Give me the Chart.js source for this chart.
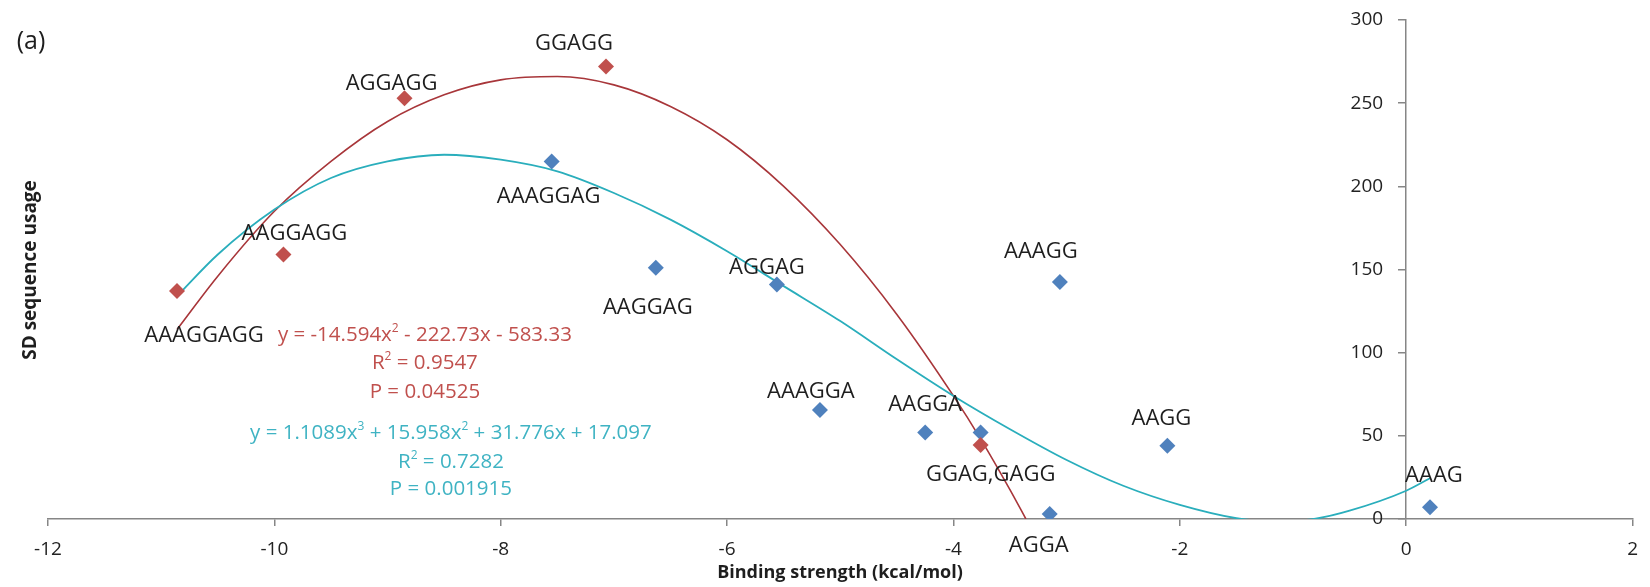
<!DOCTYPE html>
<html lang="en">
<head>
<meta charset="UTF-8">
<title>SD sequence usage vs binding strength</title>
<script src="https://cdn.jsdelivr.net/npm/chart.js"></script>
<style>
  html, body { margin: 0; padding: 0; background: #fff; }
</style>
</head>
<body>
<canvas id="sdChart" width="1650" height="587"></canvas>

<script>
// red series (diamonds)
const redNames = ['AAAGGAGG', 'AAGGAGG', 'AGGAGG', 'GGAGG', 'GGAG,GAGG'];
const redX = [-10.86, -9.92, -8.85, -7.07, -3.76];
const redY = [137, 159, 253, 272, 44.5];

// blue series (diamonds)
const blueNames = ['AAAGGAG', 'AAGGAG', 'AGGAG', 'AAAGGA', 'AAGGA', '', 'AGGA', 'AAAGG', 'AAGG', 'AAAG'];
const blueX = [-7.55, -6.63, -5.56, -5.18, -4.25, -3.76, -3.15, -3.06, -2.11, 0.21];
const blueY = [215, 151, 141, 65.5, 52, 52, 3, 142.5, 44, 7];

// trend lines
const redFitX = [-10.86, -10.5, -10, -9.5, -9, -8.5, -8, -7.5, -7, -6.5, -6, -5.5, -5, -4.5, -4, -3.75, -3.5, -3.36];
const redFitY = [114, 146, 185, 215, 239, 255, 264, 266, 261, 248, 228, 200, 165, 123, 74, 47, 17.5, 0];
const blueFitX = [-10.86, -10.5, -10, -9.5, -9, -8.5, -8, -7.5, -7, -6.5, -6, -5.5, -5, -4.5, -4, -3.5, -3, -2.5, -2, -1.5, -1.25, -1, -0.8, -0.5, 0, 0.21];
const blueFitY = [134, 159, 186, 205, 215, 219, 216, 209, 196, 180, 161, 140, 119, 96, 74, 54, 35.5, 20, 8.5, 0.5, -1, -1, 0.2, 5, 17, 24.5];

const xTicks = [-12, -10, -8, -6, -4, -2, 0, 2];
const yTicks = [0, 50, 100, 150, 200, 250, 300];

// label offsets from each diamond, in pixels
const redLabelOff = [[27, 45], [11, -21], [-13, -14], [-32, -23], [10, 30]];
const blueLabelOff = [[-3, 35], [-8, 40], [-10, -17], [-9, -18], [0, -28], [0, 0], [-11, 32], [-19, -30], [-6, -27], [4, -32]];

const FONT = '"Open Sans", "Liberation Sans", sans-serif';
const AXIS_GREY = '#868686';

function pts(xs, ys) {
  return xs.map((x, i) => ({ x: x, y: ys[i] }));
}

// draws text with superscript pieces, centred on cx
function drawRich(ctx, parts, cx, cy, size) {
  const widths = parts.map(p => {
    ctx.font = (p[1] ? Math.round(size * 0.6) : size) + 'px ' + FONT;
    return ctx.measureText(p[0]).width;
  });
  let x = cx - widths.reduce((a, b) => a + b, 0) / 2;
  parts.forEach((p, i) => {
    ctx.font = (p[1] ? Math.round(size * 0.6) : size) + 'px ' + FONT;
    ctx.fillText(p[0], x, p[1] ? cy - size * 0.32 : cy);
    x += widths[i];
  });
}

const pointLabels = {
  id: 'pointLabels',
  afterDatasetsDraw(chart) {
    const ctx = chart.ctx;
    ctx.save();
    ctx.font = '22px ' + FONT;
    ctx.fillStyle = '#1e1e1e';
    ctx.textAlign = 'center';
    ctx.textBaseline = 'middle';
    [[0, redNames, redLabelOff], [1, blueNames, blueLabelOff]].forEach(([di, names, off]) => {
      chart.getDatasetMeta(di).data.forEach((el, i) => {
        if (!names[i]) return;
        ctx.fillText(names[i], el.x + off[i][0], el.y + off[i][1]);
      });
    });
    ctx.restore();
  }
};

const extraText = {
  id: 'extraText',
  afterDraw(chart) {
    const ctx = chart.ctx;
    const xs = chart.scales.x, ys = chart.scales.y;
    ctx.save();
    ctx.textBaseline = 'middle';

    // y tick labels, left of the crossing axis
    ctx.textAlign = 'right';
    ctx.fillStyle = '#222';
    ctx.font = '19px ' + FONT;
    const axisX = xs.getPixelForValue(0);
    yTicks.forEach(v => ctx.fillText(String(v), axisX - 23, ys.getPixelForValue(v)));

    ctx.textAlign = 'left';
    // red fit equation
    ctx.fillStyle = '#c0504d';
    let cx = xs.getPixelForValue(-8.67), cy = ys.getPixelForValue(110.6);
    drawRich(ctx, [['y = -14.594x'], ['2', true], [' - 222.73x - 583.33']], cx, cy, 20.5);
    drawRich(ctx, [['R'], ['2', true], [' = 0.9547']], cx, cy + 28, 20.5);
    drawRich(ctx, [['P = 0.04525']], cx, cy + 57, 20.5);

    // blue fit equation
    ctx.fillStyle = '#3fb3c3';
    cx = xs.getPixelForValue(-8.44); cy = ys.getPixelForValue(51.7);
    drawRich(ctx, [['y = 1.1089x'], ['3', true], [' + 15.958x'], ['2', true], [' + 31.776x + 17.097']], cx, cy, 20.5);
    drawRich(ctx, [['R'], ['2', true], [' = 0.7282']], cx, cy + 29, 20.5);
    drawRich(ctx, [['P = 0.001915']], cx, cy + 56, 20.5);

    // panel letter
    ctx.fillStyle = '#1e1e1e';
    ctx.textAlign = 'center';
    ctx.font = '25px ' + FONT;
    ctx.fillText('(a)', 31, 42);

    // axis titles
    ctx.font = 'bold 18px ' + FONT;
    ctx.fillText('Binding strength (kcal/mol)', 840, 573);
    ctx.font = 'bold 19px ' + FONT;
    ctx.translate(31, 270);
    ctx.rotate(-Math.PI / 2);
    ctx.fillText('SD sequence usage', 0, 0);
    ctx.restore();
  }
};

Chart.defaults.font.family = FONT;

new Chart(document.getElementById('sdChart'), {
  type: 'scatter',
  data: {
    datasets: [
      { label: 'red', data: pts(redX, redY), pointStyle: 'rectRot', pointRadius: 8,
        backgroundColor: '#c0504d', borderColor: '#c0504d', borderWidth: 0, order: 0 },
      { label: 'blue', data: pts(blueX, blueY), pointStyle: 'rectRot', pointRadius: 8,
        backgroundColor: '#4f81bd', borderColor: '#4f81bd', borderWidth: 0, order: 1 },
      { label: 'redFit', data: pts(redFitX, redFitY), showLine: true, pointRadius: 0,
        borderColor: '#a8363a', borderWidth: 1.6, cubicInterpolationMode: 'monotone', order: 3 },
      { label: 'blueFit', data: pts(blueFitX, blueFitY), showLine: true, pointRadius: 0,
        borderColor: '#2aaebc', borderWidth: 1.8, cubicInterpolationMode: 'monotone', order: 2 }
    ]
  },
  options: {
    responsive: false,
    animation: false,
    events: [],
    layout: { padding: { left: 48, right: 13, top: 20, bottom: 0 } },
    plugins: { legend: { display: false }, tooltip: { enabled: false } },
    scales: {
      x: {
        type: 'linear', position: 'bottom', min: -12, max: 2,
        afterBuildTicks: s => { s.ticks = xTicks.map(v => ({ value: v })); },
        afterFit: s => { s.height = 68; },
        grid: { drawOnChartArea: false, tickLength: 7, color: AXIS_GREY, lineWidth: 1.5 },
        border: { color: AXIS_GREY, width: 1.5 },
        ticks: { padding: 12, color: '#222', font: { size: 19 } },
        title: { display: false }
      },
      y: {
        type: 'linear', position: { x: 0 }, min: 0, max: 300,
        afterBuildTicks: s => { s.ticks = yTicks.map(v => ({ value: v })); },
        grid: { drawOnChartArea: false, tickLength: 7, color: AXIS_GREY, lineWidth: 1.5 },
        border: { color: AXIS_GREY, width: 1.5 },
        ticks: { display: false },
        title: { display: false }
      }
    }
  },
  plugins: [pointLabels, extraText]
});
</script>
</body>
</html>
